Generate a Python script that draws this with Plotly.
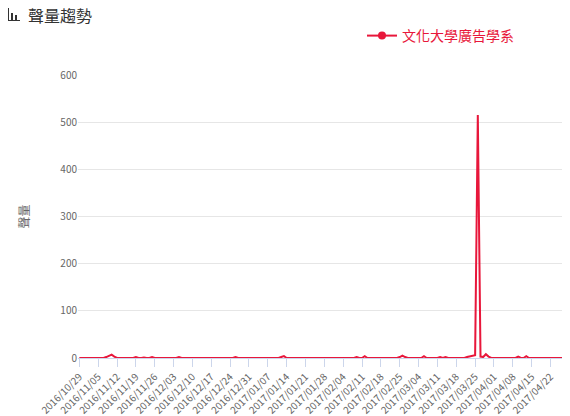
import pandas as pd
from plotly import graph_objects as go

dates = pd.date_range('2016-10-29', '2017-04-28', freq='D')
labels = [d.strftime('%Y/%m/%d') for d in dates]

# daily volume (mostly zero with small bumps)
bumps = {
    '2016/11/08': 2, '2016/11/09': 4, '2016/11/10': 7, '2016/11/11': 3,
    '2016/11/19': 2, '2016/11/22': 1, '2016/11/25': 2, '2016/12/05': 2,
    '2016/12/22': 1, '2016/12/26': 2, '2017/01/06': 1, '2017/01/12': 2,
    '2017/01/13': 4, '2017/01/20': 1, '2017/01/25': 1, '2017/02/09': 2,
    '2017/02/12': 4, '2017/02/25': 2, '2017/02/26': 5, '2017/02/27': 2,
    '2017/03/06': 4, '2017/03/12': 2, '2017/03/14': 2, '2017/03/18': 1,
    '2017/03/20': 1, '2017/03/22': 2, '2017/03/23': 3, '2017/03/24': 4,
    '2017/03/25': 6, '2017/03/26': 515, '2017/03/27': 3, '2017/03/28': 2,
    '2017/03/29': 8, '2017/03/30': 3, '2017/04/07': 1, '2017/04/10': 3,
    '2017/04/13': 4, '2017/04/17': 1,
}
volume = [bumps.get(l, 0) for l in labels]
tick_labels = labels[::7]

red = '#e8173b'
fig = go.Figure()
fig.add_trace(go.Scatter(x=labels, y=volume, mode='lines', name='文化大學廣告學系',
                         line=dict(color=red, width=2), showlegend=False))
# legend entry with the round marker
fig.add_trace(go.Scatter(x=[None], y=[None], mode='lines+markers', name='文化大學廣告學系',
                         line=dict(color=red, width=2), marker=dict(size=8, color=red)))

fig.update_xaxes(type='category', tickmode='array', tickvals=tick_labels, ticktext=tick_labels,
                 tickangle=-45, range=[-0.5, len(labels) - 0.5], showgrid=False,
                 ticks='outside', ticklen=8, tickcolor='#ccd6eb', showline=True,
                 linecolor='#ccd6eb', tickfont=dict(size=10, color='#666'))
fig.update_yaxes(range=[0, 600], tickvals=[0, 100, 200, 300, 400, 500, 600],
                 gridcolor='#e6e6e6', zeroline=False, tickfont=dict(size=10, color='#666'),
                 title=dict(text='聲量', font=dict(size=12, color='#666'), standoff=28))

# the page is drawn with an 8px body offset; work in reference pixels
L, T, B = 70, 67, 66
W, H = 570 - L - 10, 416 - T - B

def px_x(x):
    return (x - 8 - L) / W

def px_y(y):
    return 1 + (T + 8 - y) / H

# bar-chart icon next to the title
for x0, x1, y0, y1 in [(7, 9, 8, 21), (11, 13, 13, 21), (15, 17, 15, 21), (6, 20, 20, 21)]:
    fig.add_shape(type='rect', xref='paper', yref='paper',
                  x0=px_x(x0), x1=px_x(x1), y0=px_y(y1), y1=px_y(y0),
                  fillcolor='#333', line=dict(width=0))
fig.add_annotation(text='聲量趨勢', xref='paper', yref='paper', x=px_x(26), y=px_y(15),
                   xanchor='left', yanchor='middle', showarrow=False,
                   font=dict(size=16, color='#333'))

fig.update_layout(
    width=570, height=416, margin=dict(l=L, r=10, t=T, b=B, autoexpand=False),
    plot_bgcolor='white', paper_bgcolor='white',
    font=dict(family='Noto Sans CJK TC'),
    showlegend=True,
    legend=dict(x=px_x(362), y=px_y(20), xanchor='left', yanchor='top', orientation='h',
                font=dict(size=14, color=red)),
)
fig.write_html('out.html')
